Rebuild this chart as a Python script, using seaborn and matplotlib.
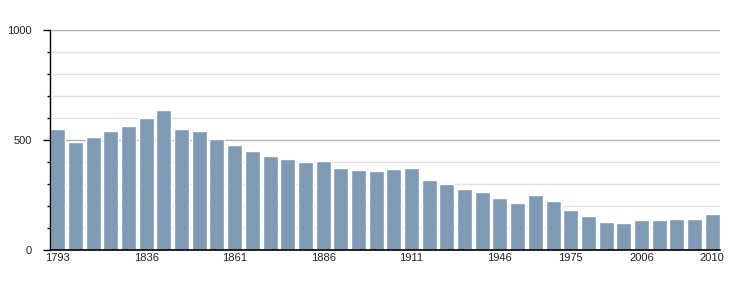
import matplotlib
matplotlib.use("Agg")
import matplotlib.pyplot as plt
import seaborn as sns
import pandas as pd
from matplotlib.ticker import MultipleLocator

years = [1793, 1800, 1806, 1821, 1831, 1836, 1841, 1846, 1851, 1856,
         1861, 1866, 1872, 1876, 1881, 1886, 1891, 1896, 1901, 1906,
         1911, 1921, 1926, 1931, 1936, 1946, 1954, 1962, 1968, 1975,
         1982, 1990, 1999, 2006, 2007, 2008, 2009, 2010]
population = [551, 492, 514, 542, 564, 601, 637, 551, 542, 505,
              478, 451, 428, 414, 401, 405, 373, 364, 360, 369,
              373, 319, 300, 278, 264, 237, 214, 250, 223, 182,
              155, 127, 123, 137, 137, 141, 141, 164]
tick_years = [1793, 1836, 1861, 1886, 1911, 1946, 1975, 2006, 2010]
y_major = [0, 500, 1000]

sns.set_theme(style="white")
plt.rcParams['font.family'] = ['Liberation Sans', 'DejaVu Sans']

df = pd.DataFrame({"year": [str(y) for y in years], "population": population})

fig = plt.figure(figsize=(7.5, 3), dpi=100)
ax = fig.add_axes([50/750, 50/300, 670/750, 220/300])

sns.barplot(data=df, x="year", y="population", color="#7f9ab3",
            saturation=1, width=0.85, ax=ax, zorder=3)

ax.set_ylim(0, 1000)
ax.set_xlim(-0.44, len(years) - 1 + 0.44)
ax.set_yticks(y_major)
ax.set_yticklabels([str(v) for v in y_major], fontsize=8, color="#222222")
ax.yaxis.set_minor_locator(MultipleLocator(100))
ax.tick_params(axis='y', which='major', length=5, width=1, color='black', left=True, pad=8)
ax.tick_params(axis='y', which='minor', length=2.5, width=1, color='black', left=True)

idx = [years.index(y) for y in tick_years]
ax.set_xticks(idx)
ax.set_xticklabels([str(y) for y in tick_years], fontsize=8, color="#222222")
ax.tick_params(axis='x', length=0, pad=2)

ax.grid(False)
for v in range(100, 1001, 100):
    if v % 500 == 0:
        ax.axhline(v, color="#b0b0b0", lw=1, zorder=1)
    else:
        ax.axhline(v, color="#e2e2e2", lw=1, zorder=1)

for s in ["top", "right"]:
    ax.spines[s].set_visible(False)
ax.spines["left"].set_color("black")
ax.spines["bottom"].set_color("black")
ax.spines["left"].set_linewidth(1)
ax.spines["bottom"].set_linewidth(1.2)
ax.spines["left"].set_zorder(5)
ax.spines["bottom"].set_zorder(5)
ax.set_xlabel("")
ax.set_ylabel("")

fig.savefig("out.png", dpi=100, facecolor="white")
